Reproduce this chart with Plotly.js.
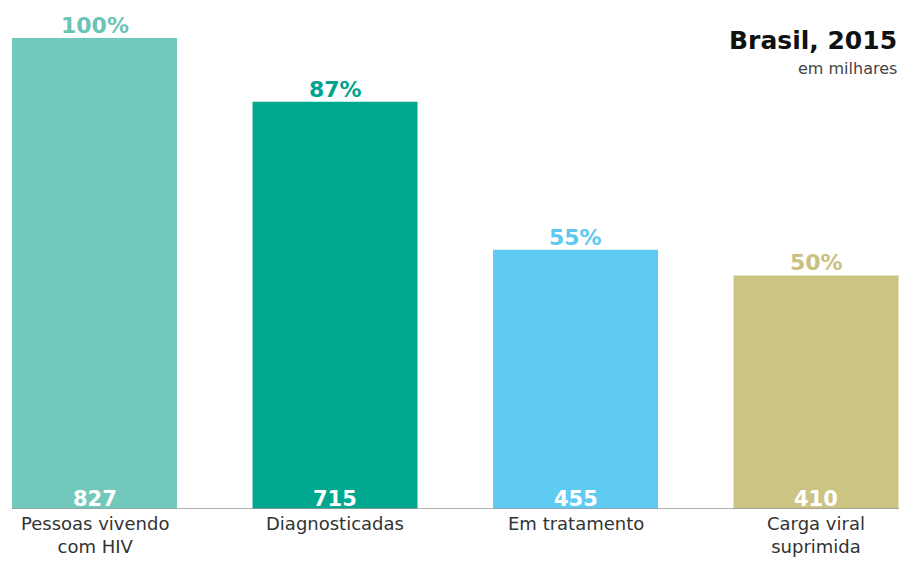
<!DOCTYPE html>
<html>
<head>
<meta charset="utf-8">
<script src="https://cdn.plot.ly/plotly-3.0.1.min.js"></script>
<style>html,body{margin:0;padding:0;background:#fff;}#chart{width:899px;height:563px;}</style>
</head>
<body>
<div id="chart"></div>
<script>
const categories = ["Pessoas vivendo<br>com HIV", "Diagnosticadas", "Em tratamento", "Carga viral<br>suprimida"];
const values = [827, 715, 455, 410];
const percents = [100, 87, 55, 50];
const barColors = ["#72c9bb", "#00a88f", "#5fcbf3", "#ccc483"];
const pctColors = ["#6cc4b6", "#00a48c", "#5ec8f0", "#c9c181"];

const xs = categories.map((c, i) => i);
const FONT = "'DejaVu Sans', 'Open Sans', sans-serif";

const annotations = [];
xs.forEach((x, i) => {
  annotations.push({x: x, y: values[i], xref: 'x', yref: 'y', text: '<b>' + percents[i] + '%</b>',
    showarrow: false, yanchor: 'bottom', yshift: -2, font: {family: FONT, size: 22, color: pctColors[i]}});
  annotations.push({x: x, y: 0, xref: 'x', yref: 'y', text: '<b>' + values[i] + '</b>',
    showarrow: false, yanchor: 'bottom', yshift: -4, font: {family: FONT, size: 21, color: '#ffffff'}});
  annotations.push({x: x, y: 0, xref: 'x', yref: 'y', text: categories[i],
    showarrow: false, yanchor: 'top', yshift: -2, font: {family: FONT, size: 18, color: '#333333'}});
});
annotations.push({x: 1, y: 1, xref: 'paper', yref: 'paper', xanchor: 'right', yanchor: 'top', yshift: -24,
  text: '<b>Brasil, 2015</b>', showarrow: false, font: {family: FONT, size: 25, color: '#111111'}});
annotations.push({x: 1, y: 1, xref: 'paper', yref: 'paper', xanchor: 'right', yanchor: 'top', yshift: -57,
  text: 'em milhares', showarrow: false, font: {family: FONT, size: 16, color: '#444444'}});

const trace = {
  type: 'bar', x: xs, y: values, width: 0.686,
  marker: {color: barColors, line: {width: 0}},
  hoverinfo: 'none'
};

const layout = {
  width: 899, height: 563,
  margin: {l: 0, r: 0, t: 0, b: 54, pad: 0},
  paper_bgcolor: '#ffffff', plot_bgcolor: '#ffffff',
  showlegend: false,
  xaxis: {range: [-0.393, 3.345], showticklabels: false, showgrid: false, zeroline: false, showline: false, ticks: ''},
  yaxis: {range: [0, 893.7], visible: false, showgrid: false, zeroline: false},
  shapes: [{type: 'line', xref: 'x', yref: 'y', x0: -0.343, x1: 3.345, y0: 0, y1: 0,
    line: {color: '#9a9a9a', width: 1.5}}],
  annotations: annotations
};

Plotly.newPlot('chart', [trace], layout, {staticPlot: true, displayModeBar: false});
</script>
</body>
</html>
